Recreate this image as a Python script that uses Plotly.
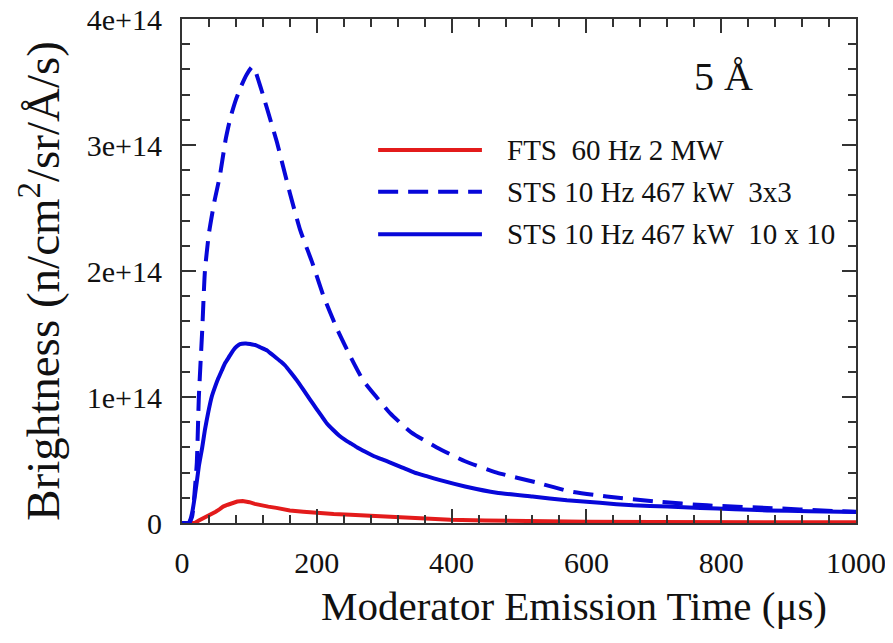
import plotly.graph_objects as go

# ---------------- data ----------------
series_names = ["FTS  60 Hz 2 MW", "STS 10 Hz 467 kW  3x3", "STS 10 Hz 467 kW  10 x 10"]

fts_x = [0, 15, 19, 25, 31, 37, 44, 50, 56, 61, 68, 75, 82, 90, 95, 100, 108, 116, 128, 140, 160, 180, 200, 225,
         250, 275, 298, 325, 350, 398, 450, 500, 600, 700, 800, 900, 1000]
fts_y = [0, 0, 0.0, 0.2e13, 0.35e13, 0.5e13, 0.7e13, 0.9e13, 1.1e13, 1.3e13, 1.45e13, 1.6e13, 1.7e13, 1.75e13,
         1.72e13, 1.65e13, 1.52e13, 1.4e13, 1.3e13, 1.2e13, 1.0e13, 0.9e13, 0.8e13, 0.72e13,
         0.65e13, 0.57e13, 0.5e13, 0.42e13, 0.35e13, 0.25e13, 0.2e13, 0.15e13, 0.1e13, 0.08e13, 0.06e13, 0.055e13,
         0.05e13]

sts33_x = [0, 10, 15, 18, 22, 25, 30, 34, 40, 48, 56, 65, 72, 80, 88, 96, 104, 108, 113, 120, 130, 141, 150, 160,
           175, 193, 210, 231, 250, 269, 290, 309, 340, 378, 420, 467, 527, 576, 630, 704, 779, 868, 966, 1000]
sts33_y = [0, 0, 0.05e14, 0.2e14, 0.48e14, 1.0e14, 1.53e14, 2.0e14, 2.3e14, 2.55e14, 2.75e14, 3.05e14, 3.22e14,
           3.36e14, 3.47e14, 3.56e14, 3.62e14, 3.6e14, 3.52e14, 3.4e14, 3.22e14, 3.02e14, 2.83e14, 2.62e14,
           2.33e14, 2.07e14, 1.8e14, 1.53e14, 1.32e14, 1.13e14, 0.99e14, 0.87e14, 0.72e14, 0.6e14, 0.49e14,
           0.4e14, 0.32e14, 0.25e14, 0.21e14, 0.17e14, 0.14e14, 0.12e14, 0.095e14, 0.09e14]

sts1010_x = [0, 10, 12, 15, 19, 25, 30, 34, 39, 44, 49, 54, 59, 64, 70, 76, 81, 86, 95, 101, 110, 118, 126, 133,
             140, 147, 153, 162, 172, 181, 190, 199, 207, 215, 224, 233, 242, 251, 260, 272, 285, 297, 309, 327,
             345, 364, 383, 420, 467, 520, 571, 620, 669, 720, 769, 820, 868, 930, 1000]
sts1010_y = [0, 0, 0.02e14, 0.08e14, 0.21e14, 0.45e14, 0.6e14, 0.74e14, 0.88e14, 1.0e14, 1.08e14, 1.15e14,
             1.21e14, 1.27e14, 1.32e14, 1.37e14, 1.40e14, 1.42e14, 1.425e14, 1.42e14, 1.41e14, 1.39e14, 1.37e14,
             1.34e14, 1.31e14, 1.28e14, 1.25e14, 1.19e14, 1.12e14, 1.05e14, 0.98e14, 0.91e14, 0.85e14, 0.79e14,
             0.74e14, 0.695e14, 0.66e14, 0.63e14, 0.60e14, 0.565e14, 0.53e14, 0.505e14, 0.48e14, 0.44e14,
             0.40e14, 0.37e14, 0.34e14, 0.29e14, 0.24e14, 0.21e14, 0.18e14, 0.16e14, 0.14e14, 0.13e14, 0.12e14,
             0.11e14, 0.1e14, 0.093e14, 0.087e14]

x_tickvals = [0, 200, 400, 600, 800, 1000]
x_ticktext = ["0", "200", "400", "600", "800", "1000"]
y_tickvals = [0, 1e14, 2e14, 3e14, 4e14]
y_ticktext = ["0", "1e+14", "2e+14", "3e+14", "4e+14"]
x_title = "Moderator Emission Time (μs)"
y_title = "Brightness (n/cm<sup>2</sup>/sr/Å/s)"
panel_label = "5 Å"

RED = "#e31b1b"
BLUE = "#0707d9"
FONT = "Liberation Serif"
AX = "#333333"
TXT = "#111111"

fig = go.Figure()
fig.add_trace(go.Scatter(x=fts_x, y=fts_y, mode="lines", name=series_names[0],
                         line=dict(color=RED, width=4), showlegend=False))
fig.add_trace(go.Scatter(x=sts33_x, y=sts33_y, mode="lines", name=series_names[1],
                         line=dict(color=BLUE, width=4, dash="20px,10px", shape="spline", smoothing=0.5),
                         showlegend=False))
fig.add_trace(go.Scatter(x=sts1010_x, y=sts1010_y, mode="lines", name=series_names[2],
                         line=dict(color=BLUE, width=4, shape="spline", smoothing=0.4), showlegend=False))

# manual legend (long line samples as in the reference)
leg_styles = [dict(color=RED, width=4), dict(color=BLUE, width=4, dash="20px,10px"), dict(color=BLUE, width=4)]
leg_y = [0.740, 0.657, 0.573]
for name, st, yy in zip(series_names, leg_styles, leg_y):
    fig.add_shape(type="line", xref="paper", yref="paper", x0=0.291, x1=0.445, y0=yy, y1=yy, line=st)
    fig.add_annotation(xref="paper", yref="paper", x=0.479, y=yy, text=name, showarrow=False,
                       xanchor="left", yanchor="middle", font=dict(family=FONT, size=29, color=TXT))

fig.add_annotation(xref="paper", yref="paper", x=0.803, y=0.885, text=panel_label, showarrow=False,
                   xanchor="center", yanchor="middle", font=dict(family=FONT, size=40, color=TXT))

# axis titles (placed as in the reference)
fig.add_annotation(xref="paper", yref="paper", x=0.582, y=-0.164, text=x_title, showarrow=False,
                   xanchor="center", yanchor="middle", font=dict(family=FONT, size=41, color=TXT))
fig.add_annotation(xref="paper", yref="paper", x=-0.211, y=0.48, text=y_title, showarrow=False,
                   textangle=-90, xanchor="center", yanchor="middle",
                   font=dict(family=FONT, size=47, color=TXT))

axis_common = dict(
    showline=True, linecolor=AX, linewidth=2, mirror="ticks",
    ticks="inside", ticklen=14, tickwidth=2, tickcolor=AX,
    showgrid=False, zeroline=False, automargin=False, ticklabeloverflow="allow",
    tickfont=dict(family=FONT, size=30, color=TXT),
)

fig.update_xaxes(range=[0, 1000], tickvals=x_tickvals, ticktext=x_ticktext,
                 minor=dict(dtick=40, ticks="inside", ticklen=8, tickwidth=2, tickcolor=AX, showgrid=False),
                 ticklabelstandoff=12, **axis_common)
fig.update_yaxes(range=[0, 4e14], tickvals=y_tickvals, ticktext=y_ticktext,
                 minor=dict(dtick=2e13, ticks="inside", ticklen=8, tickwidth=2, tickcolor=AX, showgrid=False),
                 ticklabelstandoff=12, **axis_common)

# the page adds an 8px body margin, so the figure is 8px smaller than the window
fig.update_layout(width=885, height=635, margin=dict(l=174, r=37, t=11, b=120),
                  plot_bgcolor="white", paper_bgcolor="white", font=dict(family=FONT))

fig.write_html("out.html")
